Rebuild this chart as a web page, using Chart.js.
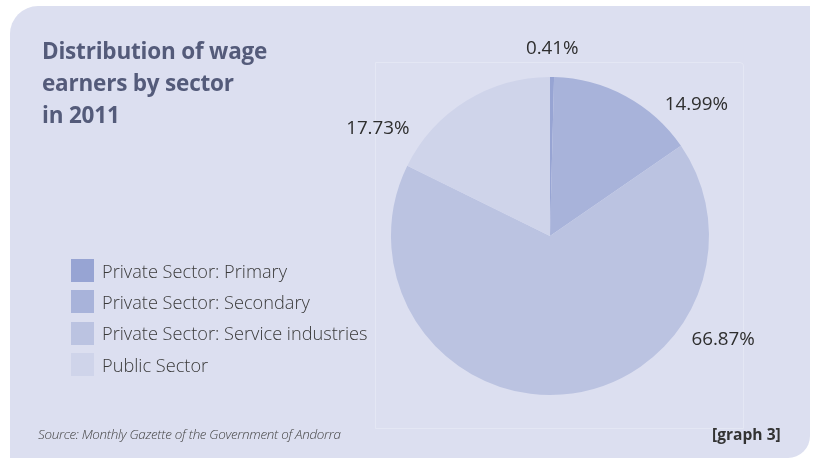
<!DOCTYPE html>
<html>
<head>
<meta charset="utf-8">
<script src="https://cdn.jsdelivr.net/npm/chart.js@4.4.1/dist/chart.umd.min.js"></script>
<style>
  html, body { margin: 0; padding: 0; background: #fff; }
  #wrap { position: relative; width: 814px; height: 459px; overflow: hidden; }
  #panel {
    position: absolute; left: 10px; top: 6px; width: 800px; height: 452px;
    background: #dcdff0; border-radius: 28px 0 22px 0;
  }
  #plotBox {
    position: absolute; left: 375px; top: 62px; width: 367px; height: 365px;
    border: 1px solid #e4e7f4;
    border-radius: 0 4px 0 0;
  }
  #chartCanvas { position: absolute; left: 0; top: 0; }
  #title {
    position: absolute; left: 42px; top: 35px;
    font: 700 22.5px/32px "Open Sans", sans-serif; color: #545b7a; letter-spacing: -0.2px;
  }
  #legend { position: absolute; left: 71px; top: 255px; }
  .item { display: flex; align-items: center; height: 31.3px; }
  .box { width: 23px; height: 23px; margin-right: 8px; }
  .txt { font: 300 18.2px "Open Sans", sans-serif; color: #3a3a3a; white-space: nowrap; }
  #source {
    position: absolute; left: 38px; top: 425px;
    font: italic 300 13.4px "Open Sans", sans-serif; color: #444; letter-spacing: -0.3px;
  }
  #tag {
    position: absolute; left: 712px; top: 423px;
    font: 700 15.6px "Open Sans", sans-serif; color: #333;
  }
</style>
</head>
<body>
<div id="wrap">
  <div id="panel"></div>
  <div id="plotBox"></div>
  <canvas id="chartCanvas" width="814" height="459"></canvas>
  <div id="title">Distribution of wage<br>earners by sector<br>in 2011</div>
  <div id="legend"></div>
  <div id="source">Source: Monthly Gazette of the Government of Andorra</div>
  <div id="tag">[graph 3]</div>
</div>
<script>
// wage earners by sector, 2011 (%)
const sectors = ['Private Sector: Primary', 'Private Sector: Secondary', 'Private Sector: Service industries', 'Public Sector'];
const shares = [0.41, 14.99, 66.87, 17.73];
const sliceColors = ['#97a4d3', '#a8b3da', '#bbc3e1', '#cfd4ea'];

// legend
const legendDiv = document.getElementById('legend');
sectors.forEach(function (name, i) {
  const row = document.createElement('div');
  row.className = 'item';
  row.innerHTML = '<div class="box" style="background:' + sliceColors[i] + '"></div><span class="txt">' + name + '</span>';
  legendDiv.appendChild(row);
});

// percentage labels around the pie, placed by angle (deg from top) and distance from centre
const pctLabels = {
  id: 'pctLabels',
  afterDatasetsDraw(chart, args, opts) {
    const ctx = chart.ctx;
    const meta = chart.getDatasetMeta(0);
    ctx.save();
    ctx.font = '18.8px "Open Sans", sans-serif';
    ctx.fillStyle = '#2e2e2e';
    ctx.textAlign = 'center';
    ctx.textBaseline = 'middle';
    meta.data.forEach(function (arc, i) {
      const p = opts.placement[i];
      const a = (p.angle - 90) * Math.PI / 180;
      const x = arc.x + Math.cos(a) * p.dist;
      const y = arc.y + Math.sin(a) * p.dist;
      ctx.fillText(shares[i].toFixed(2) + '%', x, y);
    });
    ctx.restore();
  }
};

new Chart(document.getElementById('chartCanvas'), {
  type: 'pie',
  data: {
    labels: sectors,
    datasets: [{
      data: shares,
      backgroundColor: sliceColors,
      borderWidth: 0
    }]
  },
  options: {
    responsive: false,
    animation: false,
    layout: { padding: { left: 391, right: 105, top: 77, bottom: 64 } },
    plugins: {
      legend: { display: false },
      tooltip: { enabled: false },
      pctLabels: {
        placement: [
          { angle: 0.7, dist: 187 },
          { angle: 48, dist: 197 },
          { angle: 121, dist: 202 },
          { angle: 302, dist: 203 }
        ]
      }
    }
  },
  plugins: [pctLabels]
});
</script>
</body>
</html>
